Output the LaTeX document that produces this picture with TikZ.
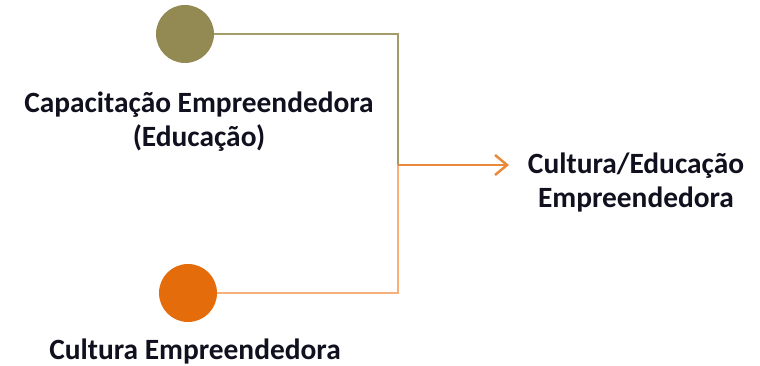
\documentclass[tikz,border=0pt]{standalone}
\usepackage{fontspec}
\setmainfont{Carlito}
\usetikzlibrary{arrows.meta}
\definecolor{olivedot}{HTML}{938953}
\definecolor{oliveline}{HTML}{A39B68}
\definecolor{orangedot}{HTML}{E46C0A}
\definecolor{orangeline}{HTML}{F8B07A}
\definecolor{arrowcol}{HTML}{E8893C}
\definecolor{txt}{HTML}{10101E}
\tikzset{
  dot/.style={circle, minimum size=58pt, inner sep=0pt},
  lbl/.style={font=\fontsize{29.4}{34}\selectfont\bfseries, text=txt, align=center, inner sep=0pt},
  conn/.style={line width=2pt},
}
\begin{document}
\begin{tikzpicture}[x=1pt,y=-1pt]
\useasboundingbox (0,0) rectangle (760,366);
\node[dot, fill=olivedot] (c1) at (185,34) {};
\node[dot, fill=orangedot] (c2) at (188,293) {};
\coordinate (j) at (398,165);
\coordinate (e) at (509,165);
\draw[conn, oliveline] (c1.east) -| (j);
\draw[conn, orangeline] (c2.east) -| (j);
\draw[conn, arrowcol, -{Straight Barb[length=12pt,width=20pt,line width=2.5pt]}] (j) -- (e);
\node[lbl] (t1) at (199,122) {Capacitação Empreendedora\\(Educação)};
\node[lbl] (t2) at (636,182) {Cultura/Educação\\Empreendedora};
\node[lbl, anchor=base] (t3) at (195,359) {Cultura Empreendedora};
\end{tikzpicture}
\end{document}
